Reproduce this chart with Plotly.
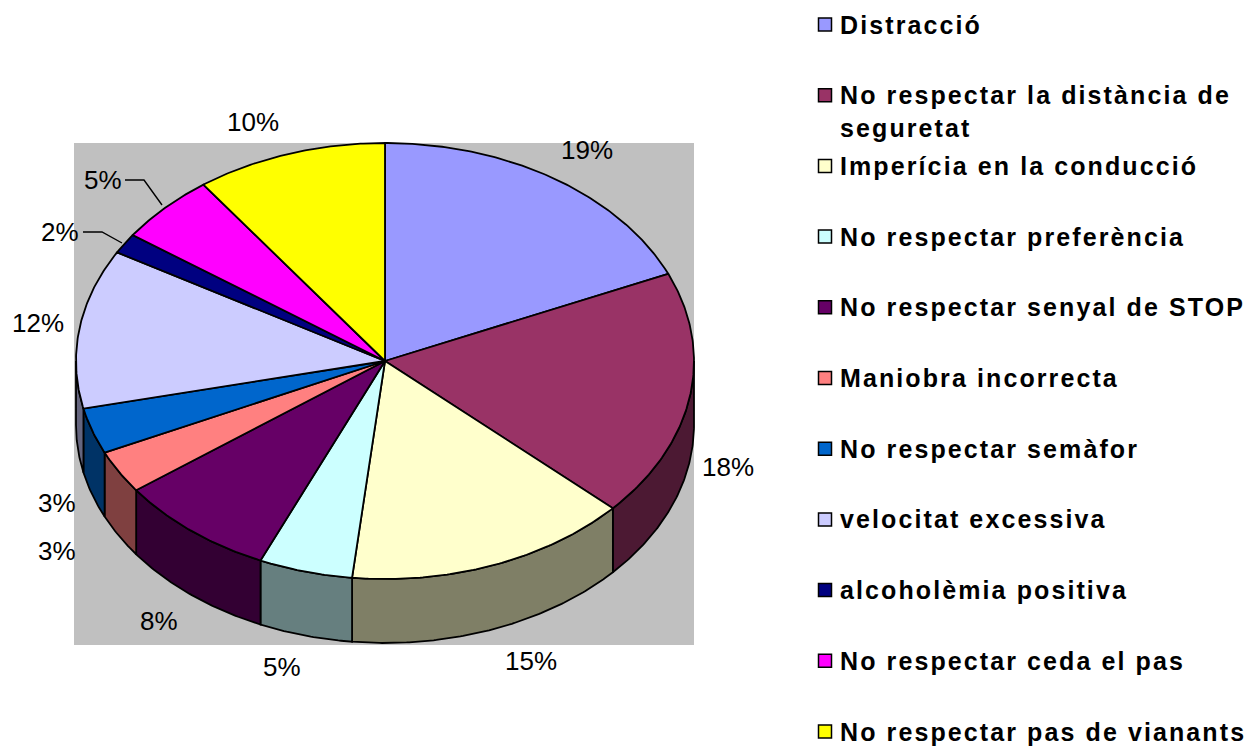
import numpy as np
import plotly.graph_objects as go

categories = ["Distracció", "No respectar la distància de<br>seguretat", "Imperícia en la conducció",
              "No respectar preferència", "No respectar senyal de STOP", "Maniobra incorrecta",
              "No respectar semàfor", "velocitat excessiva", "alcoholèmia positiva",
              "No respectar ceda el pas", "No respectar pas de vianants"]
values = [18.45, 18.35, 14.9, 4.9, 8.3, 3.2, 3.4, 11.8, 1.5, 5.2, 10.0]
percent_labels = ["19%", "18%", "15%", "5%", "8%", "3%", "3%", "12%", "2%", "5%", "10%"]
colors = ["#9999FF", "#993366", "#FFFFCC", "#CCFFFF", "#660066", "#FF8080",
          "#0066CC", "#CCCCFF", "#000080", "#FF00FF", "#FFFF00"]

# layout constants (pixel-scaled axes)
W, H = 1253, 747
CX, CY, RX, RY, DEPTH = 385, 361, 309, 218, 64
LABEL_XY = [(587, 150), (728, 467), (531, 661), (282, 667), (159, 621), (57, 551),
            (57, 503), (38, 323), (60, 232), (103, 180), (253, 122)]
LEADERS = [([125, 144, 162], [180, 180, 205]), ([83, 102, 122], [232, 232, 243])]


def darken(h):
    return "#" + "".join(f"{int(h[i:i+2], 16) // 2:02X}" for i in (1, 3, 5))


def arc(a0, a1, dy=0.0):
    t = np.radians(np.linspace(a0, a1, max(int(abs(a1 - a0) * 2), 2)))
    return CX + RX * np.sin(t), CY - RY * np.cos(t) + dy


edges = np.concatenate([[0], np.cumsum(values)]) / sum(values) * 360
fig = go.Figure()
LINE = dict(color="black", width=1.8)

# side walls (front half only: 90..270 degrees clockwise from top)
for i, c in enumerate(colors):
    a0, a1 = max(edges[i], 90), min(edges[i + 1], 270)
    if a1 <= a0:
        continue
    x0, y0 = arc(a0, a1)
    x1, y1 = arc(a1, a0, DEPTH)
    fig.add_trace(go.Scatter(x=np.r_[x0, x1, x0[0]], y=np.r_[y0, y1, y0[0]], mode="lines",
                             fill="toself", fillcolor=darken(c), line=LINE, hoverinfo="skip"))

# top faces
for i, c in enumerate(colors):
    x, y = arc(edges[i], edges[i + 1])
    fig.add_trace(go.Scatter(x=np.r_[CX, x, CX], y=np.r_[CY, y, CY], mode="lines", fill="toself",
                             fillcolor=c, line=LINE, name=categories[i].replace("<br>", " "),
                             text=f"{percent_labels[i]}", hoverinfo="name+text"))

for lx, ly in LEADERS:
    fig.add_trace(go.Scatter(x=lx, y=ly, mode="lines", line=dict(color="black", width=1.4), hoverinfo="skip"))

# legend
rows = [24.5 + 70.7 * i for i in range(len(categories))]
fig.add_trace(go.Scatter(x=[825] * len(rows), y=rows, mode="markers", hoverinfo="skip",
                         marker=dict(symbol="square", size=13, color=colors, line=dict(color="black", width=1.5))))

ann = []
for (x, y), t in zip(LABEL_XY, percent_labels):
    ann.append(dict(x=x, y=y, text=t, showarrow=False, xanchor="center", yanchor="middle",
                    font=dict(family="Liberation Sans", size=26, color="black")))
for i, (y, t) in enumerate(zip(rows, categories)):
    two = "<br>" in t
    ann.append(dict(x=838, y=y + (16 if two else 0), text=f"<b>{t}</b>", showarrow=False, xanchor="left",
                    yanchor="middle", align="left",
                    font=dict(family="Liberation Sans", size=25, color="black")))

fig.update_layout(
    width=W, height=H, margin=dict(l=0, r=0, t=0, b=0), showlegend=False,
    paper_bgcolor="white", plot_bgcolor="white", annotations=ann,
    xaxis=dict(range=[0, W], visible=False, fixedrange=True),
    yaxis=dict(range=[H, 0], visible=False, fixedrange=True),
    shapes=[dict(type="rect", x0=74, x1=694, y0=143, y1=645, fillcolor="#C0C0C0", line_width=0, layer="below")],
)
fig.write_html(
    "out.html",
    config={"displayModeBar": False},
    post_script=(
        "document.body.style.margin='0';document.body.style.overflow='hidden';"
        "document.querySelectorAll('.annotation-text').forEach(function(t){"
        "if(/bold/.test(t.innerHTML)){t.style.letterSpacing='2.1px';}});"
    ),
)
